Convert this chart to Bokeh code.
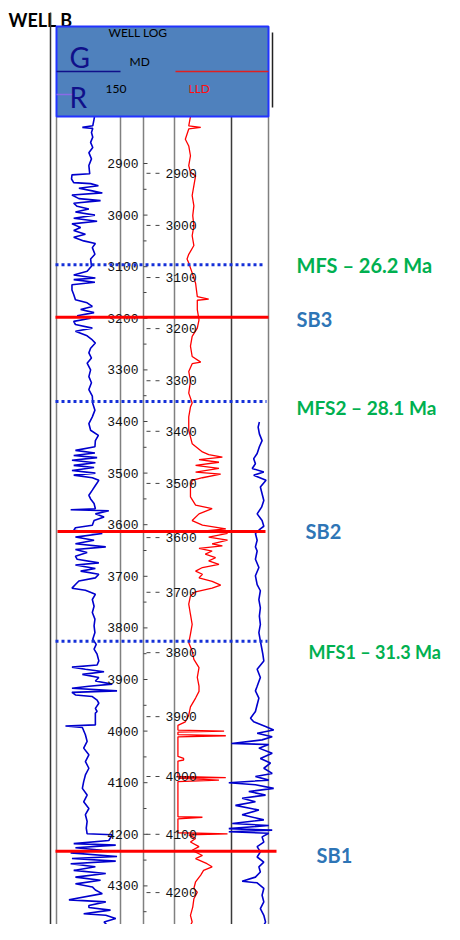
from bokeh.plotting import figure
from bokeh.models import Range1d
from bokeh.core.properties import value
from bokeh.embed import file_html
from bokeh.resources import INLINE

# ---------------- data ----------------
gr1_depth = [2809, 2814, 2827, 2830, 2832, 2840, 2849, 2859, 2869, 2879, 2891, 2904, 2920, 2922, 2930, 2937, 2939, 2943,
             2948, 2953, 2957, 2961, 2968, 2972, 2977, 2983, 2988, 2994, 3000, 3006, 3012, 3017, 3024, 3030, 3037, 3043,
             3050, 3055, 3063, 3076, 3085, 3099, 3109, 3116, 3122, 3125, 3130, 3135, 3145, 3154, 3164, 3170, 3177, 3183,
             3189, 3195, 3200, 3206, 3212, 3219, 3225, 3234, 3242, 3248, 3258, 3267, 3277, 3287, 3300, 3313, 3325, 3338,
             3351, 3365, 3378, 3391, 3404, 3417, 3427, 3437, 3449, 3456, 3461, 3466, 3470, 3475, 3480, 3485, 3489, 3495,
             3500, 3504, 3509, 3514, 3524, 3533, 3543, 3550, 3559, 3569, 3571, 3573, 3579, 3585, 3592, 3601, 3606, 3611,
             3617, 3624, 3630, 3637, 3643, 3648, 3654, 3661, 3667, 3674, 3678, 3685, 3690, 3696, 3703, 3709, 3716, 3723,
             3727, 3735, 3745, 3758, 3770, 3783, 3796, 3809, 3822, 3832, 3841, 3851, 3864, 3872, 3876, 3880, 3885, 3890,
             3896, 3903, 3909, 3913, 3917, 3922, 3925, 3930, 3933, 3940, 3946, 3956, 3962, 3965, 3988, 3990, 3993, 4007,
             4020, 4033, 4046, 4059, 4072, 4085, 4098, 4111, 4124, 4137, 4150, 4162, 4175, 4188, 4199, 4201, 4212, 4218,
             4221, 4226, 4231, 4236, 4243, 4247, 4252, 4257, 4263, 4270, 4276, 4283, 4289, 4296, 4302, 4308, 4315, 4327,
             4331, 4338, 4342, 4347, 4354, 4357, 4363, 4370, 4376, 4383]
gr1_api = [90, 89, 86, 62, 86, 83, 86, 81, 86, 77, 83, 77, 79, 38, 37, 42, 81, 99,
           54, 85, 108, 38, 54, 104, 42, 50, 77, 46, 91, 42, 96, 38, 58, 42, 69, 42,
           65, 92, 85, 91, 81, 83, 73, 42, 92, 42, 91, 38, 38, 42, 46, 73, 85, 58,
           89, 50, 81, 42, 46, 85, 46, 73, 85, 92, 81, 77, 83, 73, 81, 77, 83, 77,
           85, 86, 91, 85, 77, 81, 99, 92, 91, 46, 91, 42, 96, 38, 92, 42, 89, 38,
           92, 42, 85, 100, 92, 85, 77, 81, 89, 92, 35, 123, 92, 112, 89, 85, 46, 42,
           108, 46, 89, 46, 116, 46, 73, 46, 50, 100, 46, 92, 58, 100, 92, 54, 46, 38,
           69, 92, 85, 89, 85, 91, 89, 91, 86, 94, 89, 96, 100, 96, 38, 69, 112, 62,
           100, 92, 131, 77, 38, 142, 38, 46, 85, 96, 100, 92, 96, 92, 92, 23, 62, 69,
           73, 65, 77, 69, 77, 69, 65, 62, 73, 65, 77, 69, 73, 71, 73, 131, 123, 42,
           139, 46, 108, 35, 142, 38, 139, 35, 92, 42, 116, 46, 104, 46, 85, 92, 108, 31,
           116, 77, 77, 127, 65, 116, 139, 112, 119, 116]

lld_depth = [2809, 2827, 2830, 2833, 2853, 2866, 2885, 2904, 2917, 2924, 2943, 2962, 2982, 3001, 3021, 3040, 3059, 3076,
             3085, 3093, 3112, 3132, 3158, 3163, 3165, 3183, 3203, 3219, 3235, 3254, 3274, 3285, 3288, 3303, 3322, 3345,
             3364, 3372, 3391, 3417, 3443, 3459, 3464, 3469, 3474, 3479, 3485, 3491, 3498, 3502, 3509, 3514, 3527, 3546,
             3562, 3569, 3579, 3592, 3601, 3608, 3612, 3617, 3624, 3630, 3637, 3641, 3646, 3651, 3657, 3664, 3670, 3677,
             3683, 3690, 3696, 3703, 3710, 3717, 3723, 3730, 3738, 3754, 3774, 3793, 3812, 3829, 3845, 3861, 3877, 3896,
             3913, 3923, 3936, 3953, 3969, 3982, 3989, 3998, 4000, 4002, 4007, 4009, 4011, 4049, 4053, 4056, 4058, 4088,
             4090, 4091, 4095, 4098, 4166, 4167, 4170, 4197, 4199, 4201, 4208, 4215, 4224, 4231, 4241, 4247, 4257, 4263,
             4270, 4279, 4292, 4305, 4312, 4325, 4341, 4357, 4370, 4383]
lld_val = [28, 25, 46, 25, 19, 25, 28, 25, 28, 37, 34, 31, 34, 32, 34, 31, 34, 25,
           22, 25, 31, 37, 40, 60, 40, 40, 43, 40, 31, 28, 31, 46, 31, 25, 28, 25,
           31, 28, 25, 25, 31, 49, 60, 84, 43, 78, 37, 78, 37, 81, 49, 31, 28, 28,
           37, 66, 43, 31, 49, 90, 54, 93, 60, 93, 66, 84, 43, 66, 54, 72, 60, 78,
           49, 37, 49, 43, 66, 81, 66, 37, 28, 25, 28, 31, 28, 25, 31, 34, 43, 40,
           43, 43, 37, 28, 25, 19, 6, 6, 87, 6, 6, 90, 6, 6, 16, 16, 6, 6,
           90, 6, 78, 6, 6, 49, 6, 6, 93, 25, 37, 28, 43, 31, 49, 37, 57, 66,
           51, 46, 37, 34, 40, 34, 32, 28, 31, 25]

gr3_depth = [3401, 3411, 3424, 3437, 3449, 3462, 3472, 3482, 3491, 3498, 3504, 3514, 3527, 3540, 3553, 3566, 3579, 3592,
             3603, 3608, 3617, 3630, 3643, 3651, 3667, 3683, 3699, 3716, 3728, 3745, 3761, 3777, 3793, 3809, 3825, 3838,
             3851, 3864, 3880, 3896, 3913, 3922, 3936, 3949, 3962, 3975, 3982, 3991, 3998, 4004, 4011, 4017, 4024, 4026,
             4033, 4043, 4053, 4062, 4072, 4082, 4088, 4095, 4100, 4104, 4111, 4117, 4124, 4130, 4137, 4144, 4153, 4162,
             4172, 4179, 4183, 4189, 4192, 4195, 4198, 4205, 4215, 4224, 4234, 4244, 4254, 4263, 4273, 4283, 4291, 4294,
             4305, 4318, 4331, 4344, 4357, 4370, 4383]
gr3_api = [113, 108, 113, 124, 113, 104, 90, 97, 84, 131, 90, 140, 117, 124, 131, 122, 104, 124,
           131, 117, 97, 104, 97, 104, 97, 111, 97, 104, 117, 111, 117, 113, 117, 111, 117, 122,
           127, 131, 104, 117, 104, 97, 111, 104, 97, 77, 90, 138, 171, 104, 165, 124, 0, 151,
           111, 165, 117, 158, 131, 165, 97, 151, -11, 97, 171, 70, 138, 43, 97, 16, 111, 43,
           131, 3, 151, -11, 165, -11, 151, 124, 131, 104, 117, 104, 131, 111, 117, 97, 43, 104,
           131, 124, 131, 117, 131, 138, 124]

md_major = [2900, 3000, 3100, 3200, 3300, 3400, 3500, 3600, 3700, 3800, 3900, 4000, 4100, 4200, 4300]
md_minor = [2950, 3050, 3150, 3250, 3350, 3450, 3550, 3650, 3750, 3850, 3950, 4050, 4150, 4250, 4350]

# second depth scale labels and their equivalent MD
lld_labels = [2900, 3000, 3100, 3200, 3300, 3400, 3500, 3600, 3700, 3800, 3900, 4000, 4100, 4200]
lld_label_md = [2919, 3020, 3121, 3220, 3321, 3419, 3520, 3625, 3731, 3848, 3972, 4088, 4200, 4313]

event_names = ["MFS \u2013 26.2 Ma", "SB3", "MFS2 \u2013 28.1 Ma", "SB2", "MFS1 \u2013 31.3 Ma", "SB1"]
event_md = [3096, 3198, 3361, 3613, 3826, 4233]
event_kind = ["mfs", "sb", "mfs", "sb", "mfs", "sb"]

# ---------------- layout ----------------
W, H = 444, 924
PX0, PX1, PY0, PY1 = 0, 444, 0, 924


def lin_range(va, pa, vb, pb, e0, e1):
    k = (vb - va) / (pb - pa)
    return Range1d(va + (e0 - pa) * k, va + (e1 - pa) * k)


p = figure(width=W, height=H, x_range=Range1d(PX0, PX1), y_range=Range1d(PY1, PY0),
           x_axis_type=None, y_axis_type=None, min_border=0, toolbar_location=None,
           output_backend="svg", outline_line_color=None, background_fill_color="white")
p.extra_y_ranges = {"md": lin_range(2900, 163, 4400, 937, PY1, PY0)}
p.extra_x_ranges = {
    "gr1": lin_range(0, 55, 150, 120, PX0, PX1),
    "lld": lin_range(0, 174, 100, 231, PX0, PX1),
    "gr3": lin_range(0, 231, 150, 268, PX0, PX1),
}

FONT = value("Lato")
MONO = value("Liberation Mono")

# title and outer line
p.text(x=[8], y=[19], text=["WELL B"], text_font=FONT, text_font_size="18px", text_font_style="bold",
       text_color="black", text_baseline="middle")
p.segment(x0=[50], y0=[12], x1=[50], y1=[929], line_color="#333333", line_width=1.5)

# track frames
gray = "#808080"
p.segment(x0=[56, 120, 143, 174, 268], y0=[116] * 5, x1=[56, 120, 143, 174, 268], y1=[936, 936, 940, 935, 935],
          line_color=gray, line_width=1.5)
p.segment(x0=[231], y0=[116], x1=[231], y1=[935], line_color="#3a3a3a", line_width=1.5)

# curves
p.line(x=gr1_api, y=gr1_depth, x_range_name="gr1", y_range_name="md", line_color="#0000CD", line_width=1.6)
p.line(x=lld_val, y=lld_depth, x_range_name="lld", y_range_name="md", line_color="#FF0000", line_width=1.3)
p.line(x=gr3_api, y=gr3_depth, x_range_name="gr3", y_range_name="md", line_color="#0000CD", line_width=1.6)

# MD axis ticks and labels
p.segment(x0=[143] * len(md_major), y0=md_major, x1=[147] * len(md_major), y1=md_major,
          y_range_name="md", line_color="#444444", line_width=1)
p.segment(x0=[143] * len(md_minor), y0=md_minor, x1=[146] * len(md_minor), y1=md_minor,
          y_range_name="md", line_color="#444444", line_width=1)
p.text(x=[138] * len(md_major), y=md_major, text=[str(v) for v in md_major], y_range_name="md",
       text_font=MONO, text_font_size="13px", text_align="right", text_baseline="middle", text_color="#111111")

# second depth scale
p.segment(x0=[146] * len(lld_labels), y0=lld_label_md, x1=[150] * len(lld_labels), y1=lld_label_md,
          y_range_name="md", line_color="#444444", line_width=1)
p.segment(x0=[155] * len(lld_labels), y0=lld_label_md, x1=[159] * len(lld_labels), y1=lld_label_md,
          y_range_name="md", line_color="#444444", line_width=1)
p.text(x=[165] * len(lld_labels), y=lld_label_md, text=[str(v) for v in lld_labels], y_range_name="md",
       text_font=MONO, text_font_size="13px", text_align="left", text_baseline="middle", text_color="#111111")

# header box
p.quad(left=[56], right=[268], top=[26], bottom=[116], fill_color="#4F81BD", line_color="#2233FF", line_width=2)
p.segment(x0=[272], y0=[32], x1=[272], y1=[107], line_color="#222222", line_width=1.5)
p.segment(x0=[56], y0=[71], x1=[120], y1=[71], line_color="#10108A", line_width=1.5)
p.segment(x0=[175], y0=[71], x1=[268], y1=[71], line_color="#E02020", line_width=1.5)
p.segment(x0=[56], y0=[94], x1=[75], y1=[94], line_color="#8A6AE8", line_width=1.5)
p.text(x=[108], y=[32], text=["WELL LOG"], text_font=FONT, text_font_size="12px", text_color="black",
       text_baseline="middle")
p.text(x=[69, 69], y=[56, 96], text=["G", "R"], text_font=FONT, text_font_size="28px", text_color="#10108A",
       text_baseline="middle")
p.text(x=[129], y=[61], text=["MD"], text_font=FONT, text_font_size="12px", text_color="black",
       text_baseline="middle")
p.text(x=[105], y=[88], text=["150"], text_font=FONT, text_font_size="12px", text_color="black",
       text_baseline="middle")
p.text(x=[188], y=[88], text=["LLD"], text_font=FONT, text_font_size="12px", text_color="#FF1010",
       text_baseline="middle")

# event lines
line_x0 = [55, 55, 55, 57, 55, 55]
line_x1 = [262, 268, 266, 265, 267, 276]
label_x = [296, 296, 296, 305, 308, 316]
label_dy = [0, 2, 6, 0, 11, 4]
label_size = ["20px", "20px", "19px", "20px", "18px", "20px"]
for i, (name, md, kind) in enumerate(zip(event_names, event_md, event_kind)):
    if kind == "mfs":
        p.segment(x0=[line_x0[i]], y0=[md], x1=[line_x1[i]], y1=[md], y_range_name="md",
                  line_color="#1530D8", line_width=3, line_dash="3 3")
    else:
        p.segment(x0=[line_x0[i]], y0=[md], x1=[line_x1[i]], y1=[md], y_range_name="md",
                  line_color="#FF0000", line_width=3)

label_y = [163 + (m - 2900) * (774 / 1500) + d for m, d in zip(event_md, label_dy)]
for i, (name, kind) in enumerate(zip(event_names, event_kind)):
    p.text(x=[label_x[i]], y=[label_y[i]], text=[name], text_font=FONT, text_font_size=label_size[i],
           text_font_style="bold", text_color="#00B050" if kind == "mfs" else "#2E75B6",
           text_baseline="middle")

open("out.html", "w").write(file_html(p, INLINE))
